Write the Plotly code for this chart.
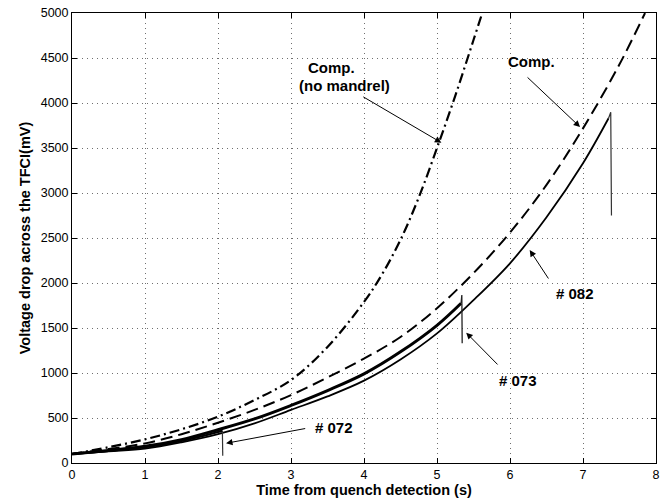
import plotly.graph_objects as go

# Comp. (no mandrel) – dash-dot
t_nomandrel = [0, 0.5, 1, 1.5, 2, 2.5, 3, 3.5, 4, 4.25, 4.5, 4.75, 5.0, 5.25, 5.5, 5.62]
v_nomandrel = [100, 175, 263, 375, 515, 700, 922, 1290, 1790, 2100, 2480, 2950, 3500, 4080, 4700, 5000]

# Comp. – dashed
t_comp = [0, 0.5, 1, 1.5, 2, 2.5, 3, 3.5, 4, 4.5, 5, 5.5, 6, 6.5, 7, 7.5, 7.85]
v_comp = [100, 155, 218, 320, 448, 590, 755, 950, 1160, 1400, 1720, 2110, 2560, 3090, 3718, 4430, 5000]

# Shot # 072 (curve, then the final drop)
t_072 = [0, 0.5, 1, 1.5, 2, 2.06]
v_072 = [100, 135, 175, 245, 345, 360]
t_072_drop = [2.06, 2.065]
v_072_drop = [360, 80]

# Shot # 073
t_073 = [0, 0.5, 1, 1.5, 2, 2.5, 3, 3.5, 4, 4.5, 5, 5.33]
v_073 = [100, 140, 185, 260, 370, 490, 640, 805, 990, 1235, 1530, 1775]
t_073_drop = [5.33, 5.34, 5.345]
v_073_drop = [1775, 1867, 1330]

# Shot # 082
t_082 = [0, 0.5, 1, 1.5, 2, 2.5, 3, 3.5, 4, 4.5, 5, 5.5, 6, 6.5, 7, 7.35]
v_082 = [100, 130, 160, 230, 320, 440, 590, 740, 915, 1150, 1440, 1810, 2219, 2730, 3330, 3830]
t_082_drop = [7.35, 7.38, 7.39]
v_082_drop = [3830, 3897, 2750]

x_ticks = [0, 1, 2, 3, 4, 5, 6, 7, 8]
y_ticks = [0, 500, 1000, 1500, 2000, 2500, 3000, 3500, 4000, 4500, 5000]

FONT = "Liberation Sans, Arial, Helvetica, sans-serif"

fig = go.Figure()
fig.add_trace(go.Scatter(x=t_nomandrel, y=v_nomandrel, mode="lines",
                         line=dict(color="black", width=2.2, dash="10px,4px,2px,4px",
                                   shape="spline", smoothing=1.0)))
fig.add_trace(go.Scatter(x=t_comp, y=v_comp, mode="lines",
                         line=dict(color="black", width=2, dash="12px,6px",
                                   shape="spline", smoothing=1.0)))
fig.add_trace(go.Scatter(x=t_082, y=v_082, mode="lines",
                         line=dict(color="black", width=1.8, shape="spline", smoothing=1.0)))
fig.add_trace(go.Scatter(x=t_082_drop, y=v_082_drop, mode="lines",
                         line=dict(color="#333333", width=1.2)))
fig.add_trace(go.Scatter(x=t_072, y=v_072, mode="lines",
                         line=dict(color="black", width=2.2, shape="spline", smoothing=1.0)))
fig.add_trace(go.Scatter(x=t_072_drop, y=v_072_drop, mode="lines",
                         line=dict(color="#333333", width=1.2)))
fig.add_trace(go.Scatter(x=t_073, y=v_073, mode="lines",
                         line=dict(color="black", width=3, shape="spline", smoothing=1.0)))
fig.add_trace(go.Scatter(x=t_073_drop, y=v_073_drop, mode="lines",
                         line=dict(color="#222222", width=1.3)))

lab_font = dict(family=FONT, size=15, color="black")

texts = [
    ("<b>Comp.</b>", 3.55, 4400),
    ("<b>(no mandrel)</b>", 3.73, 4189),
    ("<b>Comp.</b>", 6.30, 4456),
    ("<b># 082</b>", 6.89, 1878),
    ("<b># 073</b>", 6.11, 922),
    ("<b># 072</b>", 3.59, 400),
]
for txt, xx, yy in texts:
    fig.add_annotation(x=xx, y=yy, text=txt, showarrow=False, font=lab_font,
                       xanchor="center", yanchor="middle")

arrows = [
    (3.97, 4078, 5.06, 3559),
    (6.22, 4300, 6.96, 3733),
    (6.54, 2033, 6.27, 2366),
    (5.85, 1078, 5.40, 1448),
    (3.215, 386, 2.11, 219),
]
for ax_, ay_, x_, y_ in arrows:
    fig.add_annotation(x=x_, y=y_, ax=ax_, ay=ay_, axref="x", ayref="y", xref="x", yref="y",
                       text="", showarrow=True, arrowhead=2, arrowsize=1.3, arrowwidth=1,
                       arrowcolor="black", standoff=0)

axis_common = dict(showline=True, linecolor="black", linewidth=1, mirror="ticks",
                   ticks="inside", ticklen=5, tickcolor="black",
                   showgrid=True, gridcolor="#6f6f6f", griddash="1px,4px", gridwidth=1,
                   zeroline=False, automargin=False, ticklabeloverflow="allow",
                   tickfont=dict(family=FONT, size=12.5, color="black"))

fig.update_xaxes(range=[0, 8], tickvals=x_ticks, ticktext=[str(v) for v in x_ticks],
                 title=dict(text="<b>Time from quench detection (s)</b>", standoff=2,
                            font=dict(family=FONT, size=14.5, color="black")),
                 **axis_common)
fig.update_yaxes(range=[0, 5000], tickvals=y_ticks, ticktext=[str(v) for v in y_ticks],
                 title=dict(text="<b>Voltage drop across the TFCI(mV)</b>", standoff=6,
                            font=dict(family=FONT, size=14.5, color="black")),
                 **axis_common)

fig.update_layout(width=663, height=502, margin=dict(l=72, r=7, t=13, b=39),
                  plot_bgcolor="white", paper_bgcolor="white", showlegend=False)

# remove the default page margin so the figure sits exactly in the window
fig.write_html("out.html", config={"displayModeBar": False},
               post_script="document.body.style.margin='0';")
